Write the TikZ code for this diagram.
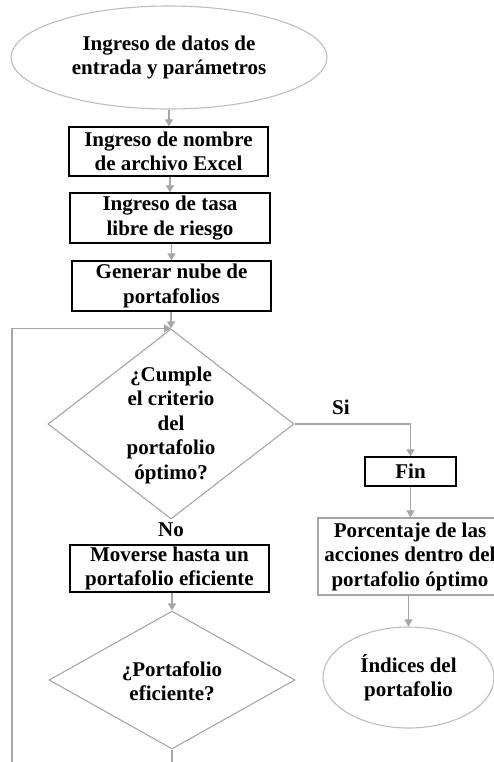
\documentclass[tikz,border=0pt]{standalone}
\usepackage{fontspec}
\setmainfont{Liberation Serif}
\usetikzlibrary{shapes.geometric,arrows.meta}
\definecolor{lgray}{RGB}{166,166,166}
\definecolor{egray}{RGB}{190,190,190}
\tikzset{
  txt/.style={font=\fontsize{21}{24.5}\selectfont\bfseries, align=center, inner sep=0pt},
  boxb/.style={txt, draw=black, line width=1.3pt, rectangle},
  boxg/.style={txt, draw=lgray, line width=1.2pt, rectangle},
  ell/.style={txt, draw=egray, line width=1.1pt, ellipse},
  dia/.style={draw=lgray, line width=1.1pt, diamond, inner sep=0pt},
  conn/.style={draw=lgray, line width=1.1pt},
  arr/.style={conn, -{Triangle[width=8pt,length=7pt]}}
}
\begin{document}
\begin{tikzpicture}[x=1pt,y=-1pt]
\useasboundingbox (0,0) rectangle (494,762);
\clip (0,0) rectangle (494,762);
\fill[white] (0,0) rectangle (494,762);
\node[ell, minimum width=316pt, minimum height=103pt] (e1) at (169,57.5) {Ingreso de datos de\\entrada y parámetros};
\node[boxb, minimum width=199pt, minimum height=49pt] (b1) at (168.5,151.5) {Ingreso de nombre\\de archivo Excel};
\node[boxb, minimum width=200pt, minimum height=50pt] (b2) at (170,218) {Ingreso de tasa\\libre de riesgo};
\node[boxb, minimum width=199pt, minimum height=50pt] (b3) at (171.5,286) {Generar nube de\\portafolios};
\node[dia, minimum width=246pt, minimum height=190pt] (d1) at (171,424) {};
\node[txt] (d1t) at (171,425) {¿Cumple\\el criterio\\del\\portafolio\\óptimo?};
\node[txt] (si) at (341,407) {Si};
\node[boxb, minimum width=91pt, minimum height=29pt] (fin) at (410.5,471.5) {Fin};
\node[boxg, minimum width=184pt, minimum height=77pt] (p) at (410,556.5) {Porcentaje de las\\acciones dentro del\\portafolio óptimo};
\node[ell, minimum width=171pt, minimum height=101pt] (e2) at (408.5,677.5) {Índices del\\portafolio};
\node[txt] (no) at (171,530) {No};
\node[boxb, minimum width=199pt, minimum height=47pt] (bm) at (169.5,568.5) {Moverse hasta un\\portafolio eficiente};
\node[dia, minimum width=246pt, minimum height=138pt] (d2) at (172,680) {};
\node[txt] (d2t) at (172,681) {¿Portafolio\\eficiente?};
\coordinate (lb) at (12,775);
\draw[arr] (e1.south) -- (e1.south |- b1.north);
\draw[arr] (b1.south -| b2.north) -- (b2.north);
\draw[arr] (b2.south -| b3.north) -- (b3.north);
\draw[arr] (b3.south -| d1.north) -- (d1.north);
\draw[arr] (d1.east) -| (fin.north);
\draw[arr] (fin.south) -- (fin.south |- p.north);
\draw[arr] (p.south -| e2.north) -- (e2.north);
\draw[arr] (bm.south -| d2.north) -- (d2.north);
\draw[arr] (d2.south) -- (d2.south |- lb) -- (lb) -- (lb |- d1.north) -- (d1.north);
\end{tikzpicture}
\end{document}
